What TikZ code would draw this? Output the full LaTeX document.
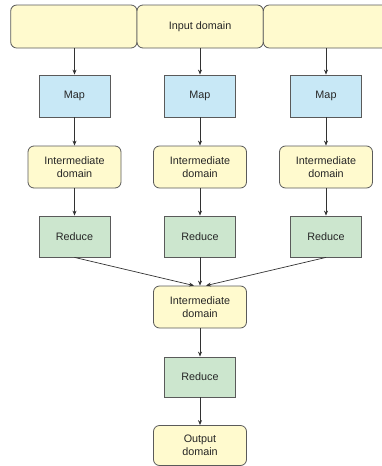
\documentclass[tikz,border=0pt]{standalone}
\usepackage{fontspec}
\setmainfont{Liberation Sans}
\usetikzlibrary{arrows.meta}
\definecolor{yel}{RGB}{255,250,206}
\definecolor{blu}{RGB}{200,232,246}
\definecolor{grn}{RGB}{204,230,206}
\definecolor{edge}{RGB}{90,90,90}
\definecolor{wire}{RGB}{50,50,50}
\begin{document}
\begin{tikzpicture}[x=1pt,y=-1pt,
  base/.style={draw=edge,line width=0.8pt,inner sep=1pt,align=center,
    font=\fontsize{10.8}{13}\selectfont,text=black!85},
  dom/.style={base,fill=yel,rounded corners=6pt,minimum width=93pt,minimum height=42pt},
  mapbox/.style={base,fill=blu,minimum width=71pt,minimum height=42pt},
  redbox/.style={base,fill=grn,minimum width=71pt,minimum height=41pt},
  inbox/.style={base,fill=yel,rounded corners=6pt,minimum width=126.3pt,minimum height=43pt},
  link/.style={draw=wire,line width=0.7pt,-{Stealth[length=5pt,width=4pt]}}]
\clip (0,0) rectangle (382,466);
\node[inbox] (in1) at (73.85,26.5) {};
\node[inbox] (in2) at (200.15,26.5) {Input domain};
\node[inbox] (in3) at (326.45,26.5) {};
\foreach \i/\x in {1/74.5,2/200,3/326}{
  \node[mapbox] (map\i) at (\x,96) {Map};
  \node[dom] (id\i) at (\x,167) {Intermediate\\domain};
  \node[redbox] (red\i) at (\x,236.5) {Reduce};
}
\draw[link] (in1.south -| map1) -- (map1.north);
\draw[link] (in2.south -| map2) -- (map2.north);
\draw[link] (in3.south -| map3) -- (map3.north);
\foreach \i in {1,2,3}{
  \draw[link] (map\i) -- (id\i);
  \draw[link] (id\i) -- (red\i);
}
\node[dom] (mid) at (200,307) {Intermediate\\domain};
\node[redbox,minimum height=40pt] (fred) at (200,377) {Reduce};
\node[dom,minimum height=40pt] (out) at (200,445.5) {Output\\domain};
\draw[link] (red1.south) -- ([xshift=-6pt]mid.north);
\draw[link] (red2.south) -- (mid.north);
\draw[link] (red3.south) -- ([xshift=6pt]mid.north);
\draw[link] (mid) -- (fred);
\draw[link] (fred) -- (out);
\end{tikzpicture}
\end{document}
